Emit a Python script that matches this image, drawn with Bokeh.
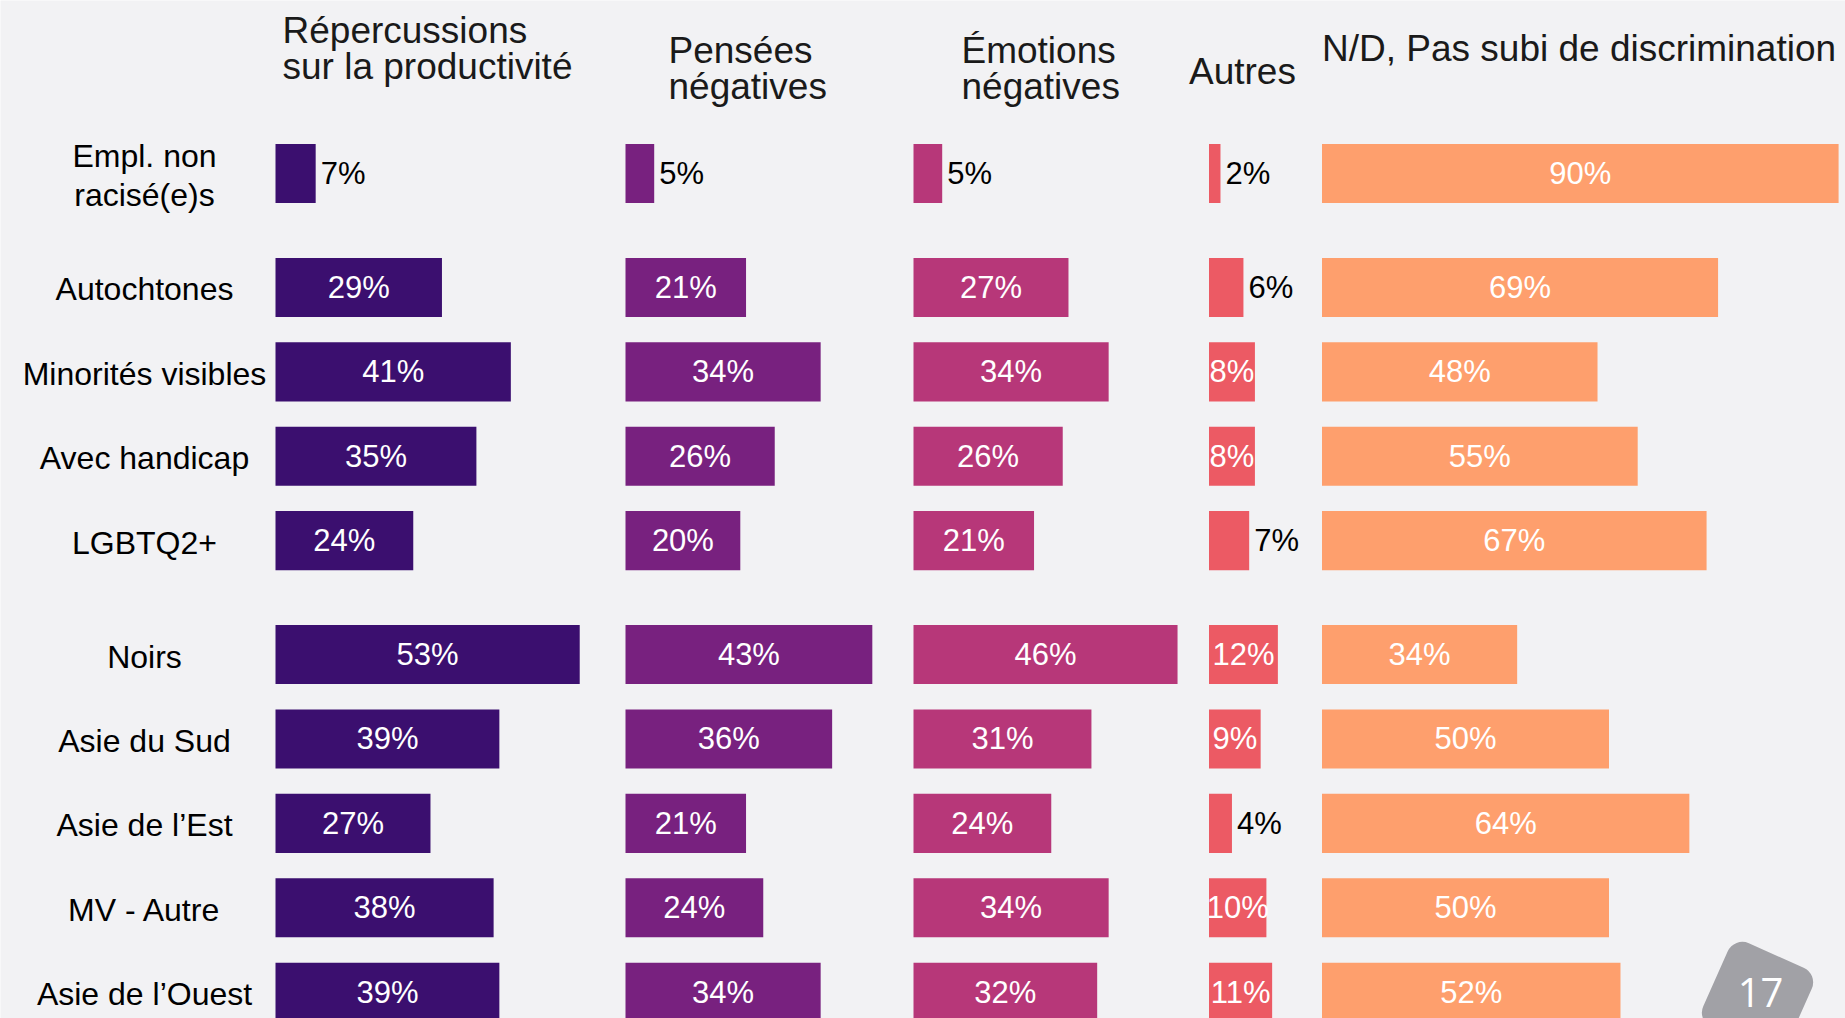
from bokeh.plotting import figure
from bokeh.models import Range1d, ColumnDataSource
from bokeh.core.properties import value
from bokeh.embed import file_html
from bokeh.resources import INLINE

# ---------------- data ----------------
categories = ["Empl. non\nracisé(e)s", "Autochtones", "Minorités visibles", "Avec handicap",
              "LGBTQ2+", "Noirs", "Asie du Sud", "Asie de l’Est", "MV - Autre", "Asie de l’Ouest"]
group_sizes = [1, 4, 5]
series_titles = ["Répercussions\nsur la productivité", "Pensées\nnégatives",
                 "Émotions\nnégatives", "Autres", "N/D, Pas subi de discrimination"]
productivite = [7, 29, 41, 35, 24, 53, 39, 27, 38, 39]
pensees = [5, 21, 34, 26, 20, 43, 36, 21, 24, 34]
emotions = [5, 27, 34, 26, 21, 46, 31, 24, 34, 32]
autres = [2, 6, 8, 8, 7, 12, 9, 4, 10, 11]
nd_pas_subi = [90, 69, 48, 55, 67, 34, 50, 64, 50, 52]
page_number = "17"

series = [productivite, pensees, emotions, autres, nd_pas_subi]

# ---------------- layout / style ----------------
colors = ["#3b0f6f", "#78217f", "#b73779", "#ec5a64", "#fe9f6d"]
W, H = 1845, 1018          # Bokeh's page template has no body margin
M = 0
PX_PER_PCT = 5.74          # horizontal pixels per percentage point
ROW_PX = 84.4              # vertical distance between rows
GROUP_GAP = 0.35           # extra gap (in rows) between groups
BAR_H = 0.70
col_left_px = [275, 625, 913, 1208.5, 1321.5]   # left edge of each column of bars
row0_px = 173
title_dx_px = [7, 43, 48, -20, 0]
title_y_px = [48, 68, 68, 71, 48]
label_center_px = 144
INSIDE_MIN = 8
FONT = value("Liberation Sans")


def X(px):
    return (px - col_left_px[0]) / PX_PER_PCT


def Y(px):
    return (px - row0_px) / ROW_PX


# row positions with gaps between groups
row_pos = []
pos = 0.0
for gi, n in enumerate(group_sizes):
    for _ in range(n):
        row_pos.append(pos)
        pos += 1.0
    pos += GROUP_GAP
row_pos = row_pos[:len(categories)]

p = figure(width=W, height=H, output_backend="svg", toolbar_location=None,
           x_range=Range1d(X(M), X(M + W)), y_range=Range1d(Y(M + H), Y(M)),
           x_axis_location=None, y_axis_location=None, min_border=0,
           background_fill_color="#f2f2f4", border_fill_color="#f2f2f4")
p.outline_line_color = None
p.xgrid.visible = False
p.ygrid.visible = False

bars = dict(y=[], left=[], right=[], color=[])
inside = dict(x=[], y=[], text=[])
outside = dict(x=[], y=[], text=[])
for ci, vals in enumerate(series):
    off = X(col_left_px[ci])
    for ri, v in enumerate(vals):
        y = row_pos[ri]
        bars["y"].append(y)
        bars["left"].append(off)
        bars["right"].append(off + v)
        bars["color"].append(colors[ci])
        if v >= INSIDE_MIN:
            inside["x"].append(off + v / 2)
            inside["y"].append(y)
            inside["text"].append(f"{v}%")
        else:
            outside["x"].append(off + v + 5 / PX_PER_PCT)
            outside["y"].append(y)
            outside["text"].append(f"{v}%")

p.hbar(y="y", left="left", right="right", height=BAR_H, fill_color="color",
       line_color=None, source=ColumnDataSource(bars))
p.text(x="x", y="y", text="text", source=ColumnDataSource(inside), text_color="white",
       text_font=FONT, text_font_size="31px", text_align="center", text_baseline="middle")
p.text(x="x", y="y", text="text", source=ColumnDataSource(outside), text_color="#000000",
       text_font=FONT, text_font_size="31px", text_align="left", text_baseline="middle")

# row labels
p.text(x=[X(label_center_px)] * len(categories), y=row_pos, text=categories,
       text_color="#000000", text_font=FONT, text_font_size="32px", text_align="center",
       text_baseline="middle", text_line_height=1.07, y_offset=2)

# column titles
p.text(x=[X(col_left_px[i] + title_dx_px[i]) for i in range(5)],
       y=[Y(v) for v in title_y_px], text=series_titles, text_color="#1a1a1a",
       text_font=FONT, text_font_size="37px", text_align="left", text_baseline="middle",
       text_line_height=0.88)

# page-number badge
try:
    p.rect(x=[X(1757)], y=[Y(997)], width=92, height=92, width_units="screen",
           height_units="screen", angle=-0.42, fill_color="#a1a1a6", line_color=None,
           border_radius=16)
except Exception:
    p.rect(x=[X(1757)], y=[Y(997)], width=92, height=92, width_units="screen",
           height_units="screen", angle=-0.42, fill_color="#a1a1a6", line_color=None)
p.text(x=[X(1760)], y=[Y(992)], text=[page_number], text_color="white",
       text_font=value("Open Sans"), text_font_size="40px", text_align="center",
       text_baseline="middle")

open("out.html", "w").write(file_html(p, INLINE))
